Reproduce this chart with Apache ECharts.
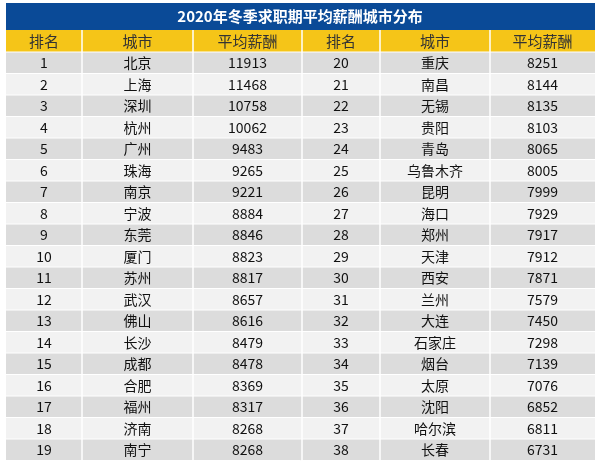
<!DOCTYPE html><html><head><meta charset="utf-8"><script src="https://cdn.jsdelivr.net/npm/echarts@6/dist/echarts.min.js"></script><style>html,body{margin:0;background:#fff}#c{width:600px;height:463px}</style></head><body><div id="c"></div><script>
const title='2020年冬季求职期平均薪酬城市分布';
const headers=['排名','城市','平均薪酬','排名','城市','平均薪酬'];
const ranksL=[1,2,3,4,5,6,7,8,9,10,11,12,13,14,15,16,17,18,19];
const citiesL=['北京','上海','深圳','杭州','广州','珠海','南京','宁波','东莞','厦门','苏州','武汉','佛山','长沙','成都','合肥','福州','济南','南宁'];
const salaryL=[11913,11468,10758,10062,9483,9265,9221,8884,8846,8823,8817,8657,8616,8479,8478,8369,8317,8268,8268];
const ranksR=[20,21,22,23,24,25,26,27,28,29,30,31,32,33,34,35,36,37,38];
const citiesR=['重庆','南昌','无锡','贵阳','青岛','乌鲁木齐','昆明','海口','郑州','天津','西安','兰州','大连','石家庄','烟台','太原','沈阳','哈尔滨','长春'];
const salaryR=[8251,8144,8135,8103,8065,8005,7999,7929,7917,7912,7871,7579,7450,7298,7139,7076,6852,6811,6731];
const colX=[6,82,193,302,380,490,595];
const top0=3,titleH=27,headH=22,rowH=21.5;
const g=[];const F='"Noto Sans CJK SC","Microsoft YaHei",sans-serif';
g.push({type:'rect',shape:{x:6,y:top0,width:589,height:titleH},style:{fill:'#0a4a97'}});
g.push({type:'text',x:300,y:top0+titleH/2,style:{text:title,fill:'#fff',font:'bold 15px '+F,align:'center',verticalAlign:'middle'}});
const hy=top0+titleH;
g.push({type:'rect',shape:{x:6,y:hy,width:589,height:headH},style:{fill:'#f5c518'}});
headers.forEach((h,i)=>g.push({type:'text',x:(colX[i]+colX[i+1])/2,y:hy+headH/2,style:{text:h,fill:'#333',font:'15px '+F,align:'center',verticalAlign:'middle'}}));
const by=hy+headH;
ranksL.forEach((r,k)=>{const y=by+k*rowH;
 g.push({type:'rect',shape:{x:6,y:y,width:589,height:rowH},style:{fill:k%2==0?'#dcdcdc':'#f2f2f2'}});
 const vals=[r,citiesL[k],salaryL[k],ranksR[k],citiesR[k],salaryR[k]];
 vals.forEach((v,i)=>g.push({type:'text',x:(colX[i]+colX[i+1])/2,y:y+rowH/2,style:{text:String(v),fill:'#111',font:'14px '+F,align:'center',verticalAlign:'middle'}}));
});
for(let i=1;i<6;i++)g.push({type:'line',shape:{x1:colX[i],y1:hy,x2:colX[i],y2:by+19*rowH},style:{stroke:'#fff',lineWidth:1.5}});
for(let k=0;k<=19;k++)g.push({type:'line',shape:{x1:6,y1:by+k*rowH,x2:595,y2:by+k*rowH},style:{stroke:'#fff',lineWidth:1}});
const ch=echarts.init(document.getElementById('c'),null,{renderer:'canvas'});
ch.setOption({animation:false,graphic:g});
</script></body></html>
